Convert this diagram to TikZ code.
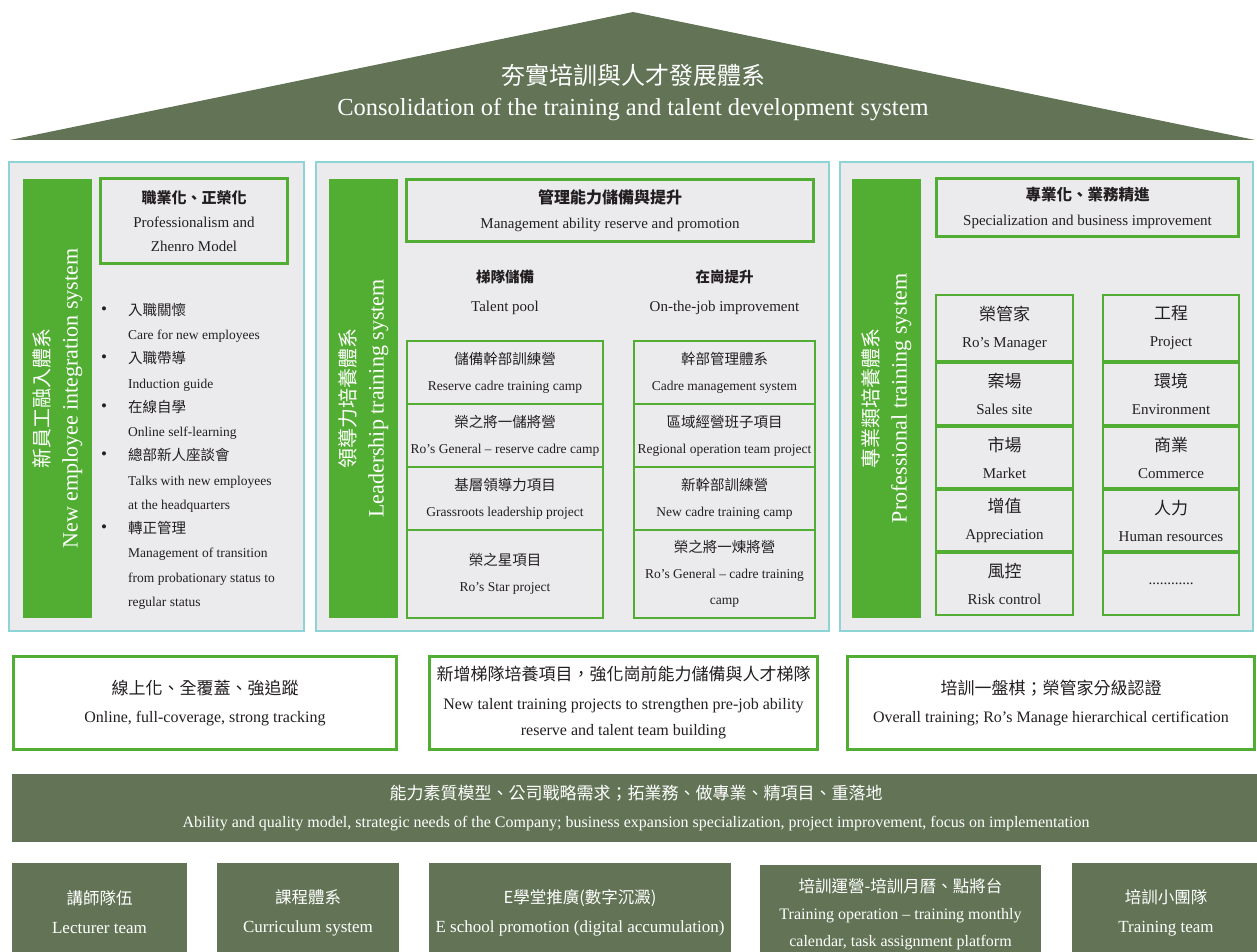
\documentclass[tikz,border=0pt]{standalone}
\usepackage{fontspec}
\setmainfont{Liberation Serif}
\newfontfamily\zh{Noto Sans CJK TC}
\definecolor{olive}{HTML}{627455}
\definecolor{brightgreen}{HTML}{52AE32}
\definecolor{panelbg}{HTML}{EBEBEE}
\definecolor{panelline}{HTML}{8ED4D6}
\definecolor{txt}{HTML}{231F20}
\newcommand\zht[2]{{\zh\fontsize{#1}{#1}\selectfont #2}}
\newcommand\zhb[2]{{\zh\bfseries\fontsize{#1}{#1}\selectfont #2}}
\newcommand\bul[1]{\makebox[27pt][l]{\raisebox{1pt}{\fontsize{17}{17}\selectfont\textbullet}}#1}
\newcommand\ind{\hspace*{27pt}}
\begin{document}
\begin{tikzpicture}[x=1pt,y=-1pt,
  panel/.style={draw=panelline, fill=panelbg, line width=1.2pt, inner sep=0pt},
  vbar/.style={fill=brightgreen, text=white, rotate=90, align=center, inner sep=0pt,
    minimum width=439pt, minimum height=69pt, font=\fontsize{22}{28}\selectfont},
  gbox/.style={draw=brightgreen, line width=2.5pt, fill=panelbg, align=center, inner sep=0pt, text=txt},
  head/.style={gbox, font=\fontsize{15}{25}\selectfont},
  cell/.style={gbox, font=\fontsize{13.5}{26}\selectfont},
  rcell/.style={gbox, font=\fontsize{15}{27}\selectfont},
  sub/.style={align=center, inner sep=0pt, text=txt, font=\fontsize{15}{29}\selectfont},
  wbox/.style={draw=brightgreen, line width=3pt, fill=white, align=center, inner sep=0pt, text=txt,
    font=\fontsize{16}{28}\selectfont},
  obox/.style={fill=olive, text=white, align=center, inner sep=0pt, font=\fontsize{17}{29}\selectfont}
]
\useasboundingbox (0,0) rectangle (1257,952);

% roof
\fill[olive] (10,140) -- (633,12) -- (1255,140) -- cycle;
\node[text=white, align=center, inner sep=0pt, font=\fontsize{24.5}{31}\selectfont] (title) at (633,92)
  {\zht{24}{夯實培訓與人才發展體系}\\Consolidation of the training and talent development system};

% panels
\node[panel, minimum width=295pt, minimum height=469pt] (p1) at (156.5,396.5) {};
\node[panel, minimum width=513pt, minimum height=469pt] (p2) at (572.5,396.5) {};
\node[panel, minimum width=413pt, minimum height=469pt] (p3) at (1046.5,396.5) {};

% vertical bars
\node[vbar] (b1) at (57.5,398.5) {\zht{20}{新員工融入體系}\\New employee integration system};
\node[vbar] (b2) at (363.5,398.5) {\zht{20}{領導力培養體系}\\Leadership training system};
\node[vbar] (b3) at (886.5,398.5) {\zht{20}{專業類培養體系}\\Professional training system};

% heading boxes
\node[head, minimum width=187pt, minimum height=85pt] (t1) at (194,221)
  {\zhb{15}{職業化、正榮化}\\[-1pt]Professionalism and\\[-1pt]Zhenro Model};
\node[head, minimum width=407pt, minimum height=62pt] (t2) at (610,210.5)
  {\zhb{16}{管理能力儲備與提升}\\Management ability reserve and promotion};
\node[head, minimum width=302pt, minimum height=58pt] (t3) at (1087.5,207.5)
  {\zhb{15.5}{專業化、業務精進}\\Specialization and business improvement};

% left list
\node[anchor=north west, align=left, inner sep=0pt, text=txt, font=\fontsize{13.5}{24.25}\selectfont] (list) at (101,303) {%
\bul{\zht{14.5}{入職關懷}}\\
\ind Care for new employees\\
\bul{\zht{14.5}{入職帶導}}\\
\ind Induction guide\\
\bul{\zht{14.5}{在線自學}}\\
\ind Online self-learning\\
\bul{\zht{14.5}{總部新人座談會}}\\
\ind Talks with new employees\\
\ind at the headquarters\\
\bul{\zht{14.5}{轉正管理}}\\
\ind Management of transition\\
\ind from probationary status to\\
\ind regular status};

% middle subheadings
\node[sub] (s1) at (505,292) {\zhb{14.5}{梯隊儲備}\\Talent pool};
\node[sub] (s2) at (724.5,292) {\zhb{14.5}{在崗提升}\\On-the-job improvement};

% middle grid left column
\node[cell, minimum width=196pt, minimum height=63pt] (l1) at (505,372.5) {\zht{14.5}{儲備幹部訓練營}\\Reserve cadre training camp};
\node[cell, minimum width=196pt, minimum height=63pt] (l2) at (505,435.5) {\zht{14.5}{榮之將一儲將營}\\Ro’s General – reserve cadre camp};
\node[cell, minimum width=196pt, minimum height=63pt] (l3) at (505,498.5) {\zht{14.5}{基層領導力項目}\\Grassroots leadership project};
\node[cell, minimum width=196pt, minimum height=88pt] (l4) at (505,574) {\zht{14.5}{榮之星項目}\\Ro’s Star project};
% middle grid right column
\node[cell, minimum width=181pt, minimum height=63pt] (r1) at (724.5,372.5) {\zht{14.5}{幹部管理體系}\\Cadre management system};
\node[cell, minimum width=181pt, minimum height=63pt] (r2) at (724.5,435.5) {\zht{14.5}{區域經營班子項目}\\Regional operation team project};
\node[cell, minimum width=181pt, minimum height=63pt] (r3) at (724.5,498.5) {\zht{14.5}{新幹部訓練營}\\New cadre training camp};
\node[cell, minimum width=181pt, minimum height=88pt] (r4) at (724.5,574) {\zht{14.5}{榮之將一煉將營}\\Ro’s General – cadre training\\camp};

% right grid
\node[rcell, minimum width=137pt, minimum height=66pt] (a1) at (1004.5,328) {\zht{17}{榮管家}\\Ro’s Manager};
\node[rcell, minimum width=137pt, minimum height=62pt] (a2) at (1004.5,394) {\zht{17}{案場}\\Sales site};
\node[rcell, minimum width=137pt, minimum height=61pt] (a3) at (1004.5,457.5) {\zht{17}{市場}\\Market};
\node[rcell, minimum width=137pt, minimum height=61pt] (a4) at (1004.5,520.5) {\zht{17}{增值}\\Appreciation};
\node[rcell, minimum width=137pt, minimum height=62pt] (a5) at (1004.5,584) {\zht{17}{風控}\\Risk control};
\node[rcell, minimum width=136pt, minimum height=66pt] (c1) at (1171,328) {\zht{17}{工程}\\Project};
\node[rcell, minimum width=136pt, minimum height=62pt] (c2) at (1171,394) {\zht{17}{環境}\\Environment};
\node[rcell, minimum width=136pt, minimum height=61pt] (c3) at (1171,457.5) {\zht{17}{商業}\\Commerce};
\node[rcell, minimum width=136pt, minimum height=61pt] (c4) at (1171,520.5) {\zht{17}{人力}\\Human resources};
\node[rcell, minimum width=136pt, minimum height=62pt] (c5) at (1171,584) {............};

% middle row
\node[wbox, minimum width=383pt, minimum height=93pt] (m1) at (205,703)
  {\zht{17}{線上化、全覆蓋、強追蹤}\\Online, full-coverage, strong tracking};
\node[wbox, minimum width=388pt, minimum height=93pt] (m2) at (623.5,703)
  {\zht{17}{新增梯隊培養項目，強化崗前能力儲備與人才梯隊}\\[1pt]New talent training projects to strengthen pre-job ability\\[-2pt]reserve and talent team building};
\node[wbox, minimum width=407pt, minimum height=93pt] (m3) at (1051,703)
  {\zht{17}{培訓一盤棋；榮管家分級認證}\\Overall training; Ro’s Manage hierarchical certification};

% olive bar
\node[obox, font=\fontsize{16}{28}\selectfont, minimum width=1248pt, minimum height=68pt] (base) at (636,808)
  {\zht{17}{能力素質模型、公司戰略需求；拓業務、做專業、精項目、重落地}\\Ability and quality model, strategic needs of the Company; business expansion specialization, project improvement, focus on implementation};

% bottom boxes
\node[obox, minimum width=175pt, minimum height=99pt] (f1) at (99.5,912.5) {\zht{16.5}{講師隊伍}\\Lecturer team};
\node[obox, minimum width=182pt, minimum height=99pt] (f2) at (308,912.5) {\zht{16.5}{課程體系}\\Curriculum system};
\node[obox, minimum width=302pt, minimum height=99pt] (f3) at (580,912.5) {\zht{16.5}{E學堂推廣(數字沉澱)}\\E school promotion (digital accumulation)};
\node[obox, minimum width=281pt, minimum height=99pt, font=\fontsize{16}{27}\selectfont] (f4) at (900.5,914) {\zht{16.5}{培訓運營-培訓月曆、點將台}\\Training operation – training monthly\\calendar, task assignment platform};
\node[obox, minimum width=188pt, minimum height=99pt] (f5) at (1166,912.5) {\zht{16.5}{培訓小團隊}\\Training team};
\end{tikzpicture}
\end{document}
